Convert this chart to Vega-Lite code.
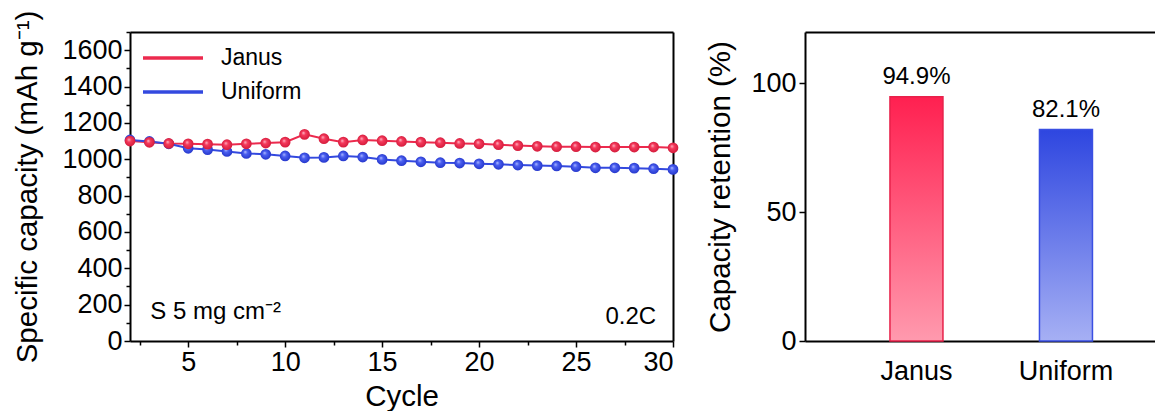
{
  "$schema": "https://vega.github.io/schema/vega-lite/v6.json",
  "autosize": {"type": "pad"},
  "padding": {"left": 12, "top": 10, "right": 0, "bottom": 0},
  "background": "white",
  "bounds": "flush",
  "spacing": 132,
  "config": {
    "font": "Liberation Sans",
    "view": {"stroke": null},
    "axis": {
      "domainColor": "black", "domainWidth": 2, "tickColor": "black", "tickWidth": 1.5,
      "labelColor": "black", "titleColor": "black", "labelFont": "Liberation Sans", "titleFont": "Liberation Sans",
      "labelFontSize": 27, "titleFontSize": 29.5, "titleFontWeight": "normal", "grid": false
    }
  },
  "datasets": {
    "cap": [
      {"cycle": 2, "series": "Janus", "capacity": 1100}, {"cycle": 3, "series": "Janus", "capacity": 1093},
      {"cycle": 4, "series": "Janus", "capacity": 1087}, {"cycle": 5, "series": "Janus", "capacity": 1085},
      {"cycle": 6, "series": "Janus", "capacity": 1083}, {"cycle": 7, "series": "Janus", "capacity": 1080},
      {"cycle": 8, "series": "Janus", "capacity": 1085}, {"cycle": 9, "series": "Janus", "capacity": 1089},
      {"cycle": 10, "series": "Janus", "capacity": 1094}, {"cycle": 11, "series": "Janus", "capacity": 1137},
      {"cycle": 12, "series": "Janus", "capacity": 1113}, {"cycle": 13, "series": "Janus", "capacity": 1094},
      {"cycle": 14, "series": "Janus", "capacity": 1106}, {"cycle": 15, "series": "Janus", "capacity": 1102},
      {"cycle": 16, "series": "Janus", "capacity": 1098}, {"cycle": 17, "series": "Janus", "capacity": 1094},
      {"cycle": 18, "series": "Janus", "capacity": 1091}, {"cycle": 19, "series": "Janus", "capacity": 1087},
      {"cycle": 20, "series": "Janus", "capacity": 1085}, {"cycle": 21, "series": "Janus", "capacity": 1080},
      {"cycle": 22, "series": "Janus", "capacity": 1075}, {"cycle": 23, "series": "Janus", "capacity": 1071},
      {"cycle": 24, "series": "Janus", "capacity": 1069}, {"cycle": 25, "series": "Janus", "capacity": 1069},
      {"cycle": 26, "series": "Janus", "capacity": 1067}, {"cycle": 27, "series": "Janus", "capacity": 1067},
      {"cycle": 28, "series": "Janus", "capacity": 1067}, {"cycle": 29, "series": "Janus", "capacity": 1067},
      {"cycle": 30, "series": "Janus", "capacity": 1063},
      {"cycle": 2, "series": "Uniform", "capacity": 1106}, {"cycle": 3, "series": "Uniform", "capacity": 1098},
      {"cycle": 4, "series": "Uniform", "capacity": 1085}, {"cycle": 5, "series": "Uniform", "capacity": 1060},
      {"cycle": 6, "series": "Uniform", "capacity": 1053}, {"cycle": 7, "series": "Uniform", "capacity": 1043},
      {"cycle": 8, "series": "Uniform", "capacity": 1032}, {"cycle": 9, "series": "Uniform", "capacity": 1027},
      {"cycle": 10, "series": "Uniform", "capacity": 1018}, {"cycle": 11, "series": "Uniform", "capacity": 1008},
      {"cycle": 12, "series": "Uniform", "capacity": 1010}, {"cycle": 13, "series": "Uniform", "capacity": 1018},
      {"cycle": 14, "series": "Uniform", "capacity": 1012}, {"cycle": 15, "series": "Uniform", "capacity": 999},
      {"cycle": 16, "series": "Uniform", "capacity": 992}, {"cycle": 17, "series": "Uniform", "capacity": 986},
      {"cycle": 18, "series": "Uniform", "capacity": 981}, {"cycle": 19, "series": "Uniform", "capacity": 979},
      {"cycle": 20, "series": "Uniform", "capacity": 975}, {"cycle": 21, "series": "Uniform", "capacity": 972},
      {"cycle": 22, "series": "Uniform", "capacity": 968}, {"cycle": 23, "series": "Uniform", "capacity": 965},
      {"cycle": 24, "series": "Uniform", "capacity": 963}, {"cycle": 25, "series": "Uniform", "capacity": 959},
      {"cycle": 26, "series": "Uniform", "capacity": 953}, {"cycle": 27, "series": "Uniform", "capacity": 953},
      {"cycle": 28, "series": "Uniform", "capacity": 951}, {"cycle": 29, "series": "Uniform", "capacity": 948},
      {"cycle": 30, "series": "Uniform", "capacity": 944}
    ],
    "notes": [
      {"cycle": 3.05, "capacity": 162, "label": "S 5 mg cm⁻²", "side": "left"},
      {"cycle": 29.13, "capacity": 132, "label": "0.2C", "side": "right"}
    ],
    "ret": [
      {"sample": "Janus", "retention": 94.9, "label": "94.9%"},
      {"sample": "Uniform", "retention": 82.1, "label": "82.1%"}
    ]
  },
  "hconcat": [
    {
      "width": 543,
      "height": 309,
      "layer": [
        {
          "data": {"name": "cap"},
          "mark": {"type": "line", "strokeWidth": 2},
          "encoding": {
            "x": {"field": "cycle", "type": "quantitative", "scale": {"domain": [2, 30], "nice": false},
              "axis": {"orient": "bottom", "values": [5, 10, 15, 20, 25, 30], "format": "d", "title": "Cycle", "tickSize": 6, "labelPadding": 2, "titlePadding": 7}},
            "y": {"field": "capacity", "type": "quantitative", "scale": {"domain": [0, 1700], "nice": false},
              "axis": {"orient": "left", "values": [0, 200, 400, 600, 800, 1000, 1200, 1400, 1600], "format": "d", "title": "Specific capacity (mAh g⁻¹)", "tickSize": 6, "labelPadding": 2, "titlePadding": 19}},
            "color": {"field": "series", "type": "nominal",
              "scale": {"domain": ["Janus", "Uniform"], "range": ["#ec2a4e", "#3349df"]},
              "legend": {"title": null, "orient": "none", "legendX": 31, "legendY": 14, "padding": 0, "symbolType": "M-3,0H3", "symbolSize": 400,
                "symbolStrokeWidth": 3.5, "labelFontSize": 23, "labelFont": "Liberation Sans", "labelColor": "black", "labelOffset": 36, "rowPadding": 10, "labelLimit": 300}}
          }
        },
        {
          "data": {"name": "cap"},
          "transform": [{"filter": "datum.series === 'Uniform'"}],
          "mark": {"type": "point", "filled": true, "size": 115, "opacity": 1,
            "fill": {"gradient": "radial", "x1": 0.38, "y1": 0.35, "r1": 0, "x2": 0.5, "y2": 0.5, "r2": 0.55,
              "stops": [{"offset": 0, "color": "#b9c2ff"}, {"offset": 0.35, "color": "#4a5ff0"}, {"offset": 1, "color": "#2233c8"}]}},
          "encoding": {
            "x": {"field": "cycle", "type": "quantitative", "axis": null},
            "y": {"field": "capacity", "type": "quantitative", "axis": null}
          }
        },
        {
          "data": {"name": "cap"},
          "transform": [{"filter": "datum.series === 'Janus'"}],
          "mark": {"type": "point", "filled": true, "size": 115, "opacity": 1,
            "fill": {"gradient": "radial", "x1": 0.38, "y1": 0.35, "r1": 0, "x2": 0.5, "y2": 0.5, "r2": 0.55,
              "stops": [{"offset": 0, "color": "#ffc0cc"}, {"offset": 0.35, "color": "#f53a5c"}, {"offset": 1, "color": "#d01838"}]}},
          "encoding": {
            "x": {"field": "cycle", "type": "quantitative", "axis": null},
            "y": {"field": "capacity", "type": "quantitative", "axis": null}
          }
        },
        {
          "data": {"name": "cap"},
          "mark": {"type": "point", "opacity": 0},
          "encoding": {
            "x": {"field": "cycle", "type": "quantitative",
              "axis": {"orient": "bottom", "values": [2.5, 7.5, 12.5, 17.5, 22.5, 27.5], "labels": false, "domain": false, "tickSize": 4, "title": null}},
            "y": {"field": "capacity", "type": "quantitative",
              "axis": {"orient": "left", "values": [100, 300, 500, 700, 900, 1100, 1300, 1500, 1700], "labels": false, "domain": false, "tickSize": 4, "title": null}}
          }
        },
        {
          "data": {"name": "cap"},
          "mark": {"type": "point", "opacity": 0},
          "encoding": {
            "x": {"field": "cycle", "type": "quantitative",
              "axis": {"orient": "top", "labels": false, "ticks": false, "title": null}},
            "y": {"field": "capacity", "type": "quantitative",
              "axis": {"orient": "right", "labels": false, "ticks": false, "title": null}}
          }
        },
        {
          "data": {"name": "notes"},
          "transform": [{"filter": "datum.side === 'left'"}],
          "mark": {"type": "text", "fontSize": 24, "font": "Liberation Sans", "color": "black", "baseline": "middle", "align": "left"},
          "encoding": {
            "x": {"field": "cycle", "type": "quantitative", "axis": null},
            "y": {"field": "capacity", "type": "quantitative", "axis": null},
            "text": {"field": "label"}
          }
        },
        {
          "data": {"name": "notes"},
          "transform": [{"filter": "datum.side === 'right'"}],
          "mark": {"type": "text", "fontSize": 24, "font": "Liberation Sans", "color": "black", "baseline": "middle", "align": "right"},
          "encoding": {
            "x": {"field": "cycle", "type": "quantitative", "axis": null},
            "y": {"field": "capacity", "type": "quantitative", "axis": null},
            "text": {"field": "label"}
          }
        }
      ],
      "resolve": {"axis": {"x": "independent", "y": "independent"}}
    },
    {
      "width": 350,
      "height": 309,
      "data": {"name": "ret"},
      "encoding": {
        "x": {"field": "sample", "type": "nominal",
          "scale": {"domain": ["Janus", "Uniform"], "paddingInner": 0.6455, "paddingOuter": 0.4933, "align": 0.576}},
        "y": {"field": "retention", "type": "quantitative",
          "scale": {"domain": [0, 120], "nice": false}}
      },
      "layer": [
        {
          "transform": [{"filter": "datum.sample === 'Janus'"}],
          "mark": {"type": "bar", "stroke": "#e8214a", "strokeWidth": 1.5,
            "fill": {"gradient": "linear", "x1": 0, "y1": 0, "x2": 0, "y2": 1,
              "stops": [{"offset": 0, "color": "#ff2050"}, {"offset": 1, "color": "#ff9aae"}]}},
          "encoding": {
            "x": {"field": "sample", "type": "nominal", "axis": null},
            "y": {"field": "retention", "type": "quantitative", "axis": null}
          }
        },
        {
          "transform": [{"filter": "datum.sample === 'Uniform'"}],
          "mark": {"type": "bar", "stroke": "#3a4fe2", "strokeWidth": 1.5,
            "fill": {"gradient": "linear", "x1": 0, "y1": 0, "x2": 0, "y2": 1,
              "stops": [{"offset": 0, "color": "#2e46e0"}, {"offset": 1, "color": "#a6b0f4"}]}},
          "encoding": {
            "x": {"field": "sample", "type": "nominal", "axis": null},
            "y": {"field": "retention", "type": "quantitative", "axis": null}
          }
        },
        {
          "mark": {"type": "text", "fontSize": 24, "font": "Liberation Sans", "color": "black", "baseline": "bottom", "dy": -8},
          "encoding": {
            "x": {"field": "sample", "type": "nominal",
              "axis": {"orient": "bottom", "title": null, "labelAngle": 0, "ticks": false, "labelPadding": 17, "labelFontSize": 27}},
            "y": {"field": "retention", "type": "quantitative",
              "axis": {"orient": "left", "values": [0, 50, 100], "title": "Capacity retention (%)", "tickSize": 6, "labelPadding": 3, "titlePadding": 15}},
            "text": {"field": "label"}
          }
        },
        {
          "mark": {"type": "point", "opacity": 0},
          "encoding": {
            "x": {"field": "sample", "type": "nominal",
              "axis": {"orient": "top", "title": null, "labels": false, "ticks": false}},
            "y": {"field": "retention", "type": "quantitative", "axis": null}
          }
        }
      ],
      "resolve": {"axis": {"x": "independent", "y": "independent"}}
    }
  ]
}
